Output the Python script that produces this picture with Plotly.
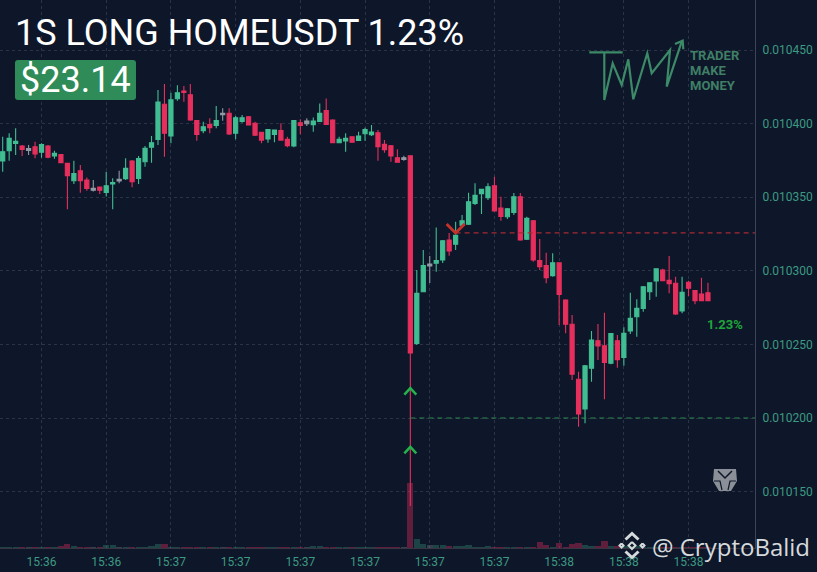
import plotly.graph_objects as go

# prices are in millionths of USDT (10391.1 = 0.0103911)
SIDE = list("gggrnrgrgr" "rgrrnrggng" "rggggrggrr" "rgrgnrggrr" "rggrrgrngg"
            "rrggrgggrr" "rrnrggnggr" "ggggggrrgg" "rgrrrgrrrr" "ggrrgrgggg" "ggrrrgrrrr")
HIGH = [10391.1,10393.4,10396.8,10385.4,10385.4,10387.7,10386.6,10385.4,10381.6,10379.3,
        10373.4,10374.8,10371.9,10363.3,10361.7,10357.2,10367.3,10362.8,10368.0,10376.4,
        10375.3,10378.0,10384.8,10391.6,10422.8,10426.9,10421.0,10426.0,10425.5,10426.9,
        10402.4,10401.3,10403.6,10411.9,10410.4,10410.4,10405.1,10405.8,10405.1,10401.3,
        10394.5,10396.1,10395.6,10400.2,10391.1,10402.0,10402.9,10403.6,10404.2,10413.7,
        10417.1,10402.9,10391.1,10393.4,10391.1,10394.5,10397.2,10399.0,10395.6,10388.8,
        10385.4,10382.5,10378.2,10378.5,10300.5,10314.1,10310.0,10329.5,10320.9,10325.7,
        10333.3,10337.9,10353.0,10359.4,10355.8,10359.4,10363.9,10350.3,10342.7,10352.8,
        10352.8,10336.7,10334.5,10321.6,10312.3,10311.9,10305.5,10280.6,10270.0,10231.5,
        10236.0,10259.1,10263.9,10271.5,10257.5,10256.4,10261.6,10285.1,10280.6,10289.7,
        10291.9,10301.7,10301.4,10310.0,10296.0,10296.0,10293.3,10287.0,10295.3,10291.9]
BODY_TOP = [10380.9,10390.0,10387.9,10384.8,10383.0,10384.3,10385.7,10384.8,10379.8,10378.9,
            10373.0,10366.0,10368.0,10361.7,10356.0,10356.9,10357.8,10359.9,10362.1,10369.6,
            10374.6,10376.2,10383.2,10387.0,10414.7,10413.1,10416.2,10421.0,10422.1,10419.6,
            10402.0,10397.9,10399.3,10402.0,10407.0,10407.0,10404.0,10404.0,10404.7,10400.2,
            10394.1,10395.9,10395.6,10395.2,10389.3,10402.0,10400.6,10401.7,10401.7,10407.0,
            10408.8,10402.4,10389.3,10390.0,10391.1,10391.6,10395.9,10394.3,10393.8,10385.9,
            10385.0,10376.8,10376.8,10378.2,10284.7,10303.5,10304.6,10306.9,10320.4,10320.9,
            10324.1,10334.0,10346.9,10351.3,10355.4,10357.1,10357.8,10342.7,10342.2,10350.3,
            10350.3,10335.7,10334.0,10306.9,10303.5,10305.5,10305.5,10280.2,10263.7,10226.3,
            10235.5,10253.0,10252.5,10249.1,10257.3,10252.5,10257.5,10267.7,10274.5,10289.2,
            10291.9,10301.4,10300.5,10293.5,10291.5,10285.4,10292.2,10286.5,10284.2,10285.1]
BODY_BOTTOM = [10374.6,10381.6,10386.6,10382.5,10381.8,10379.3,10380.5,10377.1,10378.0,10373.4,
               10364.6,10361.2,10361.2,10356.0,10354.7,10354.7,10353.3,10359.0,10361.0,10362.6,
               10360.6,10362.8,10374.1,10383.9,10389.3,10393.4,10391.6,10416.9,10421.2,10402.4,
               10392.7,10395.2,10397.2,10398.8,10406.1,10392.9,10393.4,10401.5,10399.0,10392.2,
               10388.8,10389.5,10392.7,10388.8,10385.0,10384.8,10398.8,10399.9,10399.3,10401.5,
               10399.5,10387.0,10387.0,10388.2,10387.3,10388.6,10393.1,10392.5,10384.3,10382.3,
               10378.0,10373.7,10375.7,10244.2,10250.7,10285.8,10303.3,10305.1,10307.3,10313.4,
               10318.0,10330.9,10331.6,10345.8,10352.4,10349.7,10340.6,10337.0,10336.7,10339.7,
               10320.9,10321.4,10307.3,10302.8,10295.3,10296.7,10284.0,10263.7,10229.7,10202.7,
               10206.1,10233.8,10248.9,10237.8,10237.2,10239.6,10241.2,10259.1,10268.8,10274.5,
               10285.8,10293.1,10293.3,10291.2,10270.6,10272.7,10288.1,10279.7,10279.7,10279.7]
LOW = [10367.3,10374.8,10378.7,10378.0,10378.7,10376.4,10376.8,10376.4,10376.2,10373.0,
       10341.8,10359.0,10353.1,10354.4,10353.8,10352.2,10350.4,10341.8,10359.4,10361.7,
       10356.7,10359.0,10370.7,10373.4,10385.4,10377.5,10386.6,10415.6,10414.9,10402.0,
       10388.4,10393.4,10393.4,10396.8,10402.0,10392.2,10389.3,10400.6,10399.0,10391.6,
       10386.6,10387.0,10387.3,10388.8,10383.9,10383.9,10392.7,10398.3,10394.5,10401.3,
       10399.5,10387.0,10386.6,10380.9,10387.3,10388.2,10388.4,10391.6,10374.8,10380.2,
       10374.1,10373.4,10374.8,10140.2,10249.6,10285.6,10291.7,10299.4,10305.3,10310.2,
       10314.1,10329.9,10331.1,10344.7,10338.6,10348.1,10340.1,10334.0,10335.2,10337.9,
       10320.4,10320.9,10306.2,10300.5,10291.5,10296.0,10263.2,10257.5,10225.8,10194.1,
       10196.4,10224.7,10239.4,10212.7,10236.5,10234.2,10235.5,10257.1,10255.2,10272.2,
       10280.2,10282.4,10293.1,10284.7,10270.0,10271.1,10282.9,10277.2,10279.5,10279.7]
VOLUME = [1.5,1.5,1,1,1,1,1,1,1,2, 4,2.5,1.5,1,1,1,3,3,1.5,1,
          1,1,1,2,4,4.5,1.5,1,1.5,1.5, 1,1,1,1.5,1.5,1,1,1,1,1,
          1,1,1,1,1,1,1,1,2,2, 1.5,1,1,1,1,1,1,1,1.5,1.5,
          1,1,1,65,9,4,3,3,3,2.5, 2,2,3,1.5,1,2,1.5,1,1,1,
          1,1,1,6,3,1.5,5,1.5,4,5, 3,2,2,7,2,2,2,2,2,1.5,
          1,1,1,1,1,1,1,1,1,1]
TICK_INDEX = [6,16,26,36,46,56,66,76,86,96,106]
TICK_LABELS = ["15:36","15:36","15:37","15:37","15:37","15:37","15:37","15:37","15:38","15:38","15:38"]
PRICE_TICKS = [10150,10200,10250,10300,10350,10400,10450]
PRICE_LABELS = ["0.010150","0.010200","0.010250","0.010300","0.010350","0.010400","0.010450"]
ENTRY_MARKS = [(63,10218.3),(63,10178.3)]
EXIT_MARKS = [(70,10328.4)]
ENTRY_LEVEL, EXIT_LEVEL = 10200, 10325.7
ENTRY_START, EXIT_START = 63, 70

BG="#0e1629"; RED="#e62f5c"; GREEN="#41bd92"; NEUTRAL="#8f9aa3"
TICKC="#3d9a82"; GRID="rgba(105,112,130,0.33)"; MARK="#d5dadd"
W,H=817,572
PW,PH=755,548
XR=[-0.417,116.27]; YR=[10111.68,10483.97]
px=lambda x:x/PW
py=lambda y:1-y/PH

fig=go.Figure()
N=len(HIGH)
vc={"g":"rgba(65,189,146,0.28)","r":"rgba(230,47,92,0.38)","n":"rgba(143,154,163,0.3)"}
fig.add_bar(x=list(range(N)),y=VOLUME,yaxis="y2",width=0.95,marker=dict(color=[vc[s] for s in SIDE],line_width=0),showlegend=False,hoverinfo="skip")
fig.add_scatter(x=[ENTRY_START,XR[1]],y=[ENTRY_LEVEL]*2,mode="lines",line=dict(color="#2c8a4c",width=1.2,dash="5px,4px"),showlegend=False)
fig.add_scatter(x=[EXIT_START,XR[1]],y=[EXIT_LEVEL]*2,mode="lines",line=dict(color="#a52a33",width=1.2,dash="5px,4px"),showlegend=False)
for side,col in (("g",GREEN),("r",RED),("n",NEUTRAL)):
    idx=[i for i in range(N) if SIDE[i]==side]
    opens=[BODY_TOP[i] if side=="r" else BODY_BOTTOM[i] for i in idx]
    closes=[BODY_BOTTOM[i] if side=="r" else BODY_TOP[i] for i in idx]
    fig.add_candlestick(x=idx,open=opens,high=[HIGH[i] for i in idx],low=[LOW[i] for i in idx],close=closes,
        increasing=dict(line=dict(color=col,width=1.1),fillcolor=col),
        decreasing=dict(line=dict(color=col,width=1.1),fillcolor=col),
        whiskerwidth=0,showlegend=False)

shapes=[]
def path(points):
    return "M"+" L".join(f"{px(x):.5f},{py(y):.5f}" for x,y in points)
def logo(points,width=2.2,color="#3c8a68"):
    shapes.append(dict(type="path",xref="paper",yref="paper",path=path(points),line=dict(color=color,width=width),layer="above"))
logo([(589.3,52.3),(622.7,52.3)])
logo([(604.3,52.3),(604.3,100),(612.7,63.3),(621.7,85),(628.3,59.3),(633.3,99.3),(647.3,53.3),(651.7,73.3),(670,50),(666.7,86.7),(681.7,41.7)])
logo([(675,44),(682.7,40.7),(683.3,49.3)])
# exchange mark next to the handle
cx,cy=632,545.5
def diamond(x,y,r):
    return [(x,y-r),(x+r,y),(x,y+r),(x-r,y),(x,y-r)]
logo([(cx-6.5,cy-6),(cx,cy-12),(cx+6.5,cy-6)],3,MARK)
logo([(cx-6.5,cy+6),(cx,cy+12),(cx+6.5,cy+6)],3,MARK)
logo(diamond(cx-10.5,cy,2),2,MARK)
logo(diamond(cx+10.5,cy,2),2,MARK)
logo(diamond(cx,cy,3.5),2,MARK)
# chart markers
for i,p in ENTRY_MARKS:
    shapes.append(dict(type="path",xref="x",yref="paper",xsizemode="pixel",ysizemode="pixel",xanchor=i,yanchor=(p-YR[0])/(YR[1]-YR[0]),
        path="M-6,-3.5 L0,3 L6,-3.5",line=dict(color="#23b24c",width=2.5),layer="above"))
for i,p in EXIT_MARKS:
    shapes.append(dict(type="path",xref="x",yref="paper",xsizemode="pixel",ysizemode="pixel",xanchor=i,yanchor=(p-YR[0])/(YR[1]-YR[0]),
        path="M-9,5 L0,-4 L9,5",line=dict(color="#c2342b",width=3),layer="above"))
# small grey watermark
shapes.append(dict(type="path",xref="paper",yref="paper",path=path([(714,469),(736,469),(737,481),(731,491),(719,491),(713,481),(714,469)])+" Z",fillcolor="#8b9098",line_width=0,layer="above"))
logo([(718,471),(725,478),(732,471)],1.5,BG)
logo([(714,481),(720,481),(722,490)],1.2,BG)
logo([(736,481),(730,481),(728,490)],1.2,BG)
# price badge, rounded corners
x0,x1,y0,y1,r=15,136,60,100,3
b=lambda x,y:f"{px(x):.5f},{py(y):.5f}"
shapes.append(dict(type="path",xref="paper",yref="paper",fillcolor="#2f8b58",line_width=0,layer="above",
    path=f"M{b(x0+r,y0)} L{b(x1-r,y0)} Q{b(x1,y0)} {b(x1,y0+r)} L{b(x1,y1-r)} Q{b(x1,y1)} {b(x1-r,y1)} L{b(x0+r,y1)} Q{b(x0,y1)} {b(x0,y1-r)} L{b(x0,y0+r)} Q{b(x0,y0)} {b(x0+r,y0)} Z"))

def label(x,y,text,size,color,anchor="left",fam="Roboto",weight=None):
    fig.add_annotation(xref="paper",yref="paper",x=px(x),y=py(y),xanchor=anchor,yanchor="middle",text=text,showarrow=False,
        font=dict(family=fam,size=size,color=color,weight=weight),align="left",borderpad=0,bordercolor="rgba(0,0,0,0)",borderwidth=0)
label(15,33,"1S LONG HOMEUSDT 1.23%",36,"#ffffff")
label(20,80,"$23.14",36,"#ffffff")
label(690,55,"TRADER",13,"#3f7f66",weight=700)
label(690,70,"MAKE",13,"#3f7f66",weight=700)
label(690,85,"MONEY",13,"#3f7f66",weight=700)
label(707,324,"1.23%",13,"#1fa53a",weight=700)
label(652,546,"@ CryptoBalid",24,MARK,fam="Open Sans")

fig.update_layout(width=W,height=H,margin=dict(l=0,r=W-PW,t=0,b=H-PH),paper_bgcolor=BG,plot_bgcolor=BG,
    showlegend=False,shapes=shapes,bargap=0,boxgap=0.36,boxgroupgap=0,
    xaxis=dict(range=XR,tickmode="array",tickvals=TICK_INDEX,ticktext=TICK_LABELS,showgrid=True,gridcolor=GRID,griddash="dot",gridwidth=1,
        zeroline=False,showline=True,linecolor="rgba(120,100,105,0.4)",linewidth=1,ticks="outside",ticklen=3,tickcolor="rgba(0,0,0,0)",tickfont=dict(family="Roboto",size=12,color=TICKC),rangeslider=dict(visible=False)),
    yaxis=dict(range=YR,side="right",tickmode="array",tickvals=PRICE_TICKS,ticktext=PRICE_LABELS,showgrid=True,gridcolor=GRID,griddash="dot",gridwidth=1,
        zeroline=False,showline=True,linecolor="rgba(120,125,140,0.45)",linewidth=1,ticks="outside",ticklen=4,tickcolor="rgba(0,0,0,0)",tickfont=dict(family="Roboto",size=12,color=TICKC)),
    yaxis2=dict(range=[0,PH],overlaying="y",side="left",visible=False,fixedrange=True))
fig.write_html("out.html",post_script="document.body.style.margin='0';",config=dict(displayModeBar=False))
